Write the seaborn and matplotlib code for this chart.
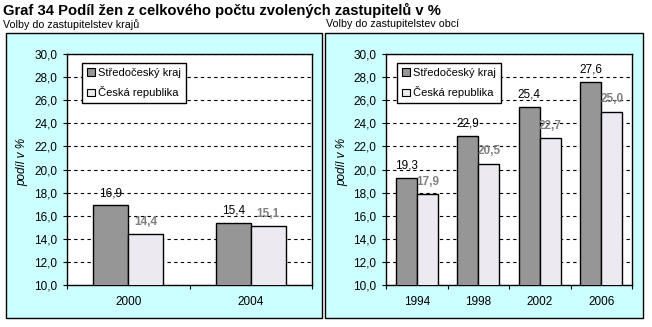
import matplotlib
matplotlib.use("Agg")
import matplotlib.pyplot as plt
import matplotlib.patches as mpatches
from matplotlib.ticker import FixedLocator, FixedFormatter
import seaborn as sns
import pandas as pd

# ---- data ----
title = "Graf 34 Podíl žen z celkového počtu zvolených zastupitelů v %"
subtitle_left = "Volby do zastupitelstev krajů"
subtitle_right = "Volby do zastupitelstev obcí"
series_names = ["Středočeský kraj", "Česká republika"]

years_kraje = ["2000", "2004"]
stc_kraje = [16.9, 15.4]
cr_kraje = [14.4, 15.1]

years_obce = ["1994", "1998", "2002", "2006"]
stc_obce = [19.3, 22.9, 25.4, 27.6]
cr_obce = [17.9, 20.5, 22.7, 25.0]

ylabel = "podíl v %"
yticks = [10, 12, 14, 16, 18, 20, 22, 24, 26, 28, 30]
ytick_labels = ["10,0", "12,0", "14,0", "16,0", "18,0", "20,0", "22,0", "24,0", "26,0", "28,0", "30,0"]

# ---- style ----
sns.set_theme(style="white")
plt.rcParams["font.family"] = ["Liberation Sans", "DejaVu Sans"]
plt.rcParams["text.color"] = "black"
plt.rcParams["xtick.color"] = "black"
plt.rcParams["ytick.color"] = "black"

W, H = 652, 327
DARK = "#969696"
LIGHT = "#ECEAF0"
PANEL = "#CCFFFF"
LABEL_GRAY = "#808080"

fig = plt.figure(figsize=(W / 100, H / 100), dpi=100)
fig.patch.set_facecolor("white")


def rect(x0, y0, x1, y1):
    return [x0 / W, 1 - y1 / H, (x1 - x0) / W, (y1 - y0) / H]


# background axes for panels
bg = fig.add_axes([0, 0, 1, 1], zorder=-5)
bg.set_xlim(0, W)
bg.set_ylim(H, 0)
bg.axis("off")
for (x0, y0, x1, y1) in [(6, 33, 322, 318), (325, 33, 643, 318)]:
    bg.add_patch(mpatches.Rectangle((x0, y0), x1 - x0, y1 - y0, facecolor=PANEL,
                                    edgecolor="black", linewidth=1.0))

fig.text(3 / W, 1 - 3 / H, title, fontsize=10.6, fontweight="bold", ha="left", va="top")
fig.text(3 / W, 1 - 19 / H, subtitle_left, fontsize=7.7, ha="left", va="top")
fig.text(326 / W, 1 - 19 / H, subtitle_right, fontsize=7.7, ha="left", va="top")


def draw(ax_rect, years, stc, cr, width, legend_x, ylab_x):
    ax = fig.add_axes(rect(*ax_rect), zorder=2)
    df = pd.DataFrame({
        "rok": years * 2,
        "hodnota": stc + cr,
        "oblast": [series_names[0]] * len(years) + [series_names[1]] * len(years),
    })
    sns.barplot(data=df, x="rok", y="hodnota", hue="oblast", order=years,
                hue_order=series_names, palette=[DARK, LIGHT], edgecolor="black",
                linewidth=1.0, width=width, ax=ax, legend=False, zorder=3, saturation=1)
    ax.set_facecolor("white")
    ax.set_ylim(10, 30)
    ax.set_xlim(-0.5, len(years) - 0.5)
    ax.yaxis.set_major_locator(FixedLocator(yticks))
    ax.yaxis.set_major_formatter(FixedFormatter(ytick_labels))
    ax.set_xlabel("")
    ax.set_ylabel("")
    ax.grid(axis="y", color="black", linestyle=(0, (3, 3)), linewidth=0.8, zorder=1)
    ax.set_axisbelow(True)
    for s in ax.spines.values():
        s.set_color("black")
        s.set_linewidth(1.0)
    ax.tick_params(axis="y", which="major", left=True, length=3, width=0.8,
                   direction="out", pad=4, labelsize=8.5, colors="black")
    ax.tick_params(axis="x", which="major", bottom=False, length=0, pad=8,
                   labelsize=8.5, colors="black")
    ax.set_xticks([i - 0.5 for i in range(len(years) + 1)], minor=True)
    ax.tick_params(axis="x", which="minor", bottom=True, length=3, width=0.8,
                   direction="out", color="black")
    # value labels
    c0, c1 = ax.containers[0], ax.containers[1]
    ax.bar_label(c0, labels=[f"{v:.1f}".replace(".", ",") for v in stc],
                 padding=4.5, fontsize=8.5, color="black")
    ax.bar_label(c1, labels=[f"{v:.1f}".replace(".", ",") for v in cr],
                 padding=4.5, fontsize=8.5, color=LABEL_GRAY, fontweight="bold")
    # legend
    handles = [mpatches.Patch(facecolor=DARK, edgecolor="black", linewidth=0.8),
               mpatches.Patch(facecolor=LIGHT, edgecolor="black", linewidth=0.8)]
    leg = ax.legend(handles, series_names, loc="upper left",
                    bbox_to_anchor=(legend_x, 0.961), borderaxespad=0,
                    fontsize=8, frameon=True, fancybox=False, shadow=False,
                    handlelength=0.7, handleheight=0.7, handletextpad=0.3,
                    labelspacing=0.75, borderpad=0.45)
    leg.get_frame().set_edgecolor("black")
    leg.get_frame().set_linewidth(1.0)
    leg.get_frame().set_facecolor("white")
    leg.get_frame().set_alpha(1)
    fig.text(ylab_x / W, 1 - 162 / H, ylabel, rotation=90, fontsize=8.5,
             fontstyle="italic", ha="center", va="center")
    return ax


draw((67, 54, 312, 285), years_kraje, stc_kraje, cr_kraje, 0.57, 0.061, 22)
draw((386, 54, 632, 285), years_obce, stc_obce, cr_obce, 0.686, 0.045, 342)

fig.savefig("out.png", dpi=100)
